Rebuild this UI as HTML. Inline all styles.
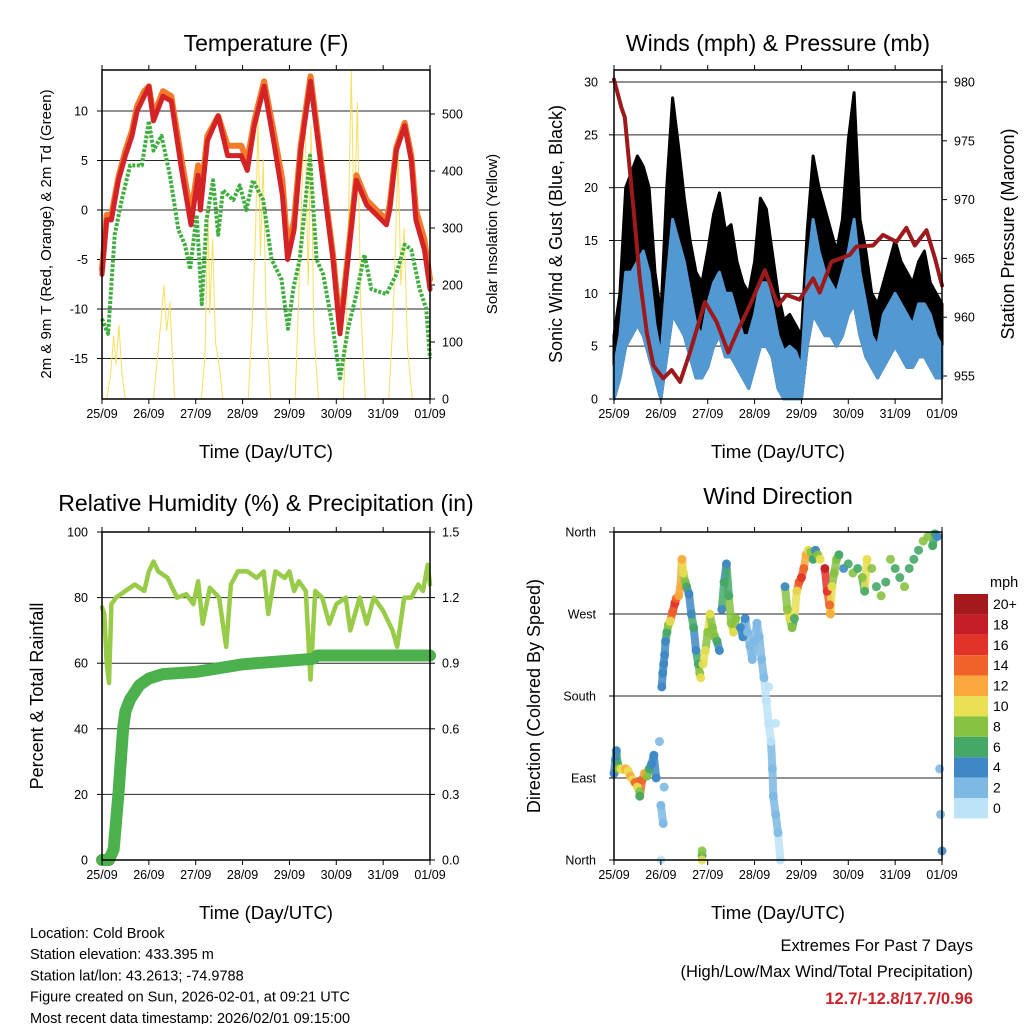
<!DOCTYPE html>
<html><head><meta charset="utf-8"><style>
body{margin:0;background:#fff;}
svg{display:block;font-family:"Liberation Sans",sans-serif;}
</style></head><body>
<svg id="c" width="1024" height="1024" viewBox="0 0 1024 1024"></svg>
<script>
// ---------- DATA ----------
const tDays=[0,0.1,0.2,0.35,0.5,0.64,0.75,0.9,1.0,1.1,1.3,1.48,1.7,1.9,2.05,2.1,2.25,2.48,2.68,2.97,3.1,3.25,3.46,3.68,3.85,3.96,4.1,4.24,4.45,4.66,4.93,5.08,5.25,5.43,5.65,6.07,6.14,6.28,6.46,6.6,6.7,6.88,7.0];
const temp2m=[-6.5,-1,-1,3,5.5,7.5,10,11.5,12.5,9,11.5,11,4,-1.5,3.5,0,7,9.5,5.5,5.5,4,8.5,12.5,6.5,1.5,-5,-2,6,13,5,-5,-12.5,-5,3,0.5,-1.5,0,6,8.5,5,-1,-4,-8];
const temp9m=[-6,-0.5,-0.5,3.3,6,8,10.5,12,12.5,9.5,12,11.5,5,-0.5,4.5,1,7.5,9.5,6.5,6.5,5,9,13,7.5,3,-4,-1,6.5,13.5,5.5,-4.5,-12,-4.5,3.5,1,-1,0.5,6.3,8.8,5.5,0,-3,-7];
const tdDays=[0,0.13,0.27,0.42,0.6,0.85,1.0,1.1,1.27,1.45,1.63,1.77,1.88,2.02,2.13,2.23,2.37,2.48,2.58,2.8,2.94,3.08,3.22,3.44,3.62,3.83,3.97,4.08,4.22,4.44,4.58,4.72,4.93,5.08,5.25,5.43,5.6,5.75,6.07,6.28,6.46,6.6,6.78,6.92,7.0];
const dewpoint=[-11,-12.5,-2.5,1,4.5,4.5,9,6,7.5,3.5,-2,-3.5,-6,-0.5,-9.5,-1,3,-2.5,2,1,2.5,0,3,1,-5,-7,-12,-8,-5,5.5,-5,-6.5,-12,-17,-12,-8.5,-4.5,-8,-8.5,-6.5,-3.5,-4,-8,-10,-15];
const solarDays=[0,0.1,0.18,0.25,0.3,0.36,0.43,0.5,1.1,1.17,1.25,1.32,1.38,1.45,1.55,2.12,2.2,2.26,2.3,2.36,2.42,2.5,2.58,3.12,3.2,3.28,3.33,3.38,3.44,3.5,3.6,4.12,4.2,4.26,4.33,4.4,4.46,4.52,4.62,5.15,5.22,5.28,5.32,5.38,5.45,5.52,5.62,6.12,6.2,6.26,6.32,6.38,6.45,6.52,6.62];
const solar=[0,0,40,110,60,130,40,0,0,60,130,200,120,170,0,0,80,340,150,280,100,60,0,0,120,300,500,250,420,150,0,0,180,350,520,200,480,120,0,0,140,400,575,300,520,160,0,0,120,260,433,200,300,90,0];
const windDays=[0,0.125,0.25,0.375,0.5,0.625,0.75,0.875,1,1.125,1.25,1.375,1.5,1.625,1.75,1.875,2,2.125,2.25,2.375,2.5,2.625,2.75,2.875,3,3.125,3.25,3.375,3.5,3.625,3.75,3.875,4,4.125,4.25,4.375,4.5,4.625,4.75,4.875,5,5.125,5.25,5.375,5.5,5.625,5.75,5.875,6,6.125,6.25,6.375,6.5,6.625,6.75,6.875,7];
const gustHi=[6,10,20,21.5,23,22,20,12,8,20,28.5,24,19,15,12,11,14,17.5,19.5,16,16.5,13,11,10,13,19,18,14,10,7.5,8,7,6,16,23,20,18,16,14,17,24.5,29,17,14,10,9,11,13,15,13,12,11,13,14,11,10,9];
const windHi=[3,6,12,12,13,14,12,7,4,11,17,15,13,10,7,6,9,11,12,10,10,8,6,6,8,11,11,9,6,4.5,5,4.5,3,12,17,14,12,11,10,12,14,17,12,9,6,5,8,9,10,9,8,7,9,9,8,6,5];
const windLo=[0,2,5,6,7,6,4,2,0,4,8,7,6,4,2,2,3,5,6,4,4,3,2,1,3,5,5,4,1,0,0,0,0,5,8,7,6,6,5,6,8,9,6,4,3,2,3,4,5,4,3,3,4,4,3,2,2];
const presDays=[0,0.16,0.23,0.41,0.55,0.7,0.84,1.05,1.23,1.41,1.62,1.94,2.19,2.44,2.62,2.9,3.22,3.5,3.68,3.96,4.25,4.39,4.64,5.03,5.17,5.53,5.74,6.03,6.24,6.42,6.67,6.85,7.0];
const pressure=[980.2,977.8,977,969.5,963.3,958.7,955.9,954.8,955.5,954.5,957,961.3,959.6,957,958.7,961,964,961,961.9,961.5,963.3,962.1,964.7,965.3,966,966.1,967,966.4,967.6,966.1,967.4,965,962.7];
const rhDays=[0,0.05,0.1,0.15,0.2,0.3,0.5,0.7,0.9,1.0,1.1,1.2,1.4,1.6,1.8,1.95,2.05,2.15,2.3,2.5,2.6,2.65,2.75,2.9,3.1,3.3,3.45,3.55,3.7,3.9,4.0,4.1,4.2,4.35,4.45,4.55,4.7,4.85,5.0,5.2,5.3,5.5,5.65,5.8,6.0,6.2,6.3,6.45,6.6,6.75,6.85,6.95,7.0];
const rh=[77,75,60,54,78,80,82,84,82,88,91,88,86,80,81,78,85,72,83,80,70,65,84,88,88,86,88,75,88,86,88,82,85,82,55,82,80,72,78,80,70,80,72,80,76,70,65,80,80,84,82,90,84];
const precipDays=[0,0.15,0.25,0.35,0.45,0.5,0.6,0.8,1.0,1.3,2.0,3.0,4.5,4.6,7.0];
const precip=[0,0,0.05,0.3,0.6,0.68,0.735,0.8,0.83,0.85,0.86,0.895,0.92,0.935,0.935];
const dirDays=[0,0.03,0.05,0.08,0.1,0.15,0.2,0.25,0.3,0.35,0.4,0.45,0.5,0.55,0.55,0.6,0.65,0.7,0.75,0.8,0.85,0.9,0.97,1.0,1.05,1.07,1.0,1.02,1.04,1.06,1.08,1.1,1.13,1.16,1.2,1.25,1.3,1.33,1.38,1.42,1.45,1.48,1.52,1.55,1.6,1.65,1.7,1.75,1.8,1.83,1.85,1.88,1.88,1.88,1.9,1.95,2.0,2.05,2.1,2.15,2.2,2.25,2.3,2.35,2.4,2.45,2.5,2.55,2.6,2.7,2.75,2.8,2.85,2.9,2.95,3.0,3.05,3.1,3.15,3.2,3.25,3.3,3.35,3.38,3.4,3.45,3.5,3.55,3.45,3.3,3.65,3.7,3.75,3.8,3.85,3.9,3.95,4.0,4.05,4.1,4.15,4.2,4.25,4.3,4.35,4.4,4.5,4.55,4.6,4.62,4.65,4.7,4.75,4.8,4.9,5.0,5.1,5.2,5.3,5.35,5.4,5.5,5.6,5.7,5.8,5.9,6.0,6.1,6.2,6.3,6.4,6.5,6.6,6.7,6.8,6.85,6.9,6.95,6.97,7.0];
const dirDeg=[95,110,120,105,100,100,99,100,98,92,88,85,80,75,70,88,95,92,100,105,115,90,130,60,40,80,0,190,205,215,225,240,250,258,262,272,282,287,290,300,330,315,305,300,292,270,255,230,215,205,200,5,10,0,215,230,250,270,255,245,240,230,275,305,325,290,260,250,265,255,245,265,250,235,220,240,260,245,220,200,175,150,130,100,70,50,30,0,150,190,300,275,265,255,265,295,305,310,320,335,340,338,330,340,335,330,320,295,280,270,300,315,330,335,320,325,315,320,310,295,330,320,300,290,305,330,320,310,300,320,330,340,350,355,345,358,355,100,50,10];
const dirSpeed=[4,4,4,6,8,10,10,12,10,12,10,14,10,8,6,14,12,8,6,4,4,4,2,2,2,2,0,4,4,4,4,4,6,8,10,14,16,14,12,12,12,10,8,6,4,4,6,4,6,8,10,6,8,10,10,10,8,10,8,8,6,4,4,6,4,6,8,10,8,4,4,4,2,2,2,2,2,2,2,2,0,0,0,2,2,2,2,0,0,0,4,8,10,8,6,10,14,16,14,12,10,8,6,4,8,10,18,16,14,12,10,8,8,6,4,6,8,6,8,6,10,8,6,8,6,8,6,6,8,6,6,6,8,8,6,6,4,2,2,4];
const xTickLabels=["25/09","26/09","27/09","28/09","29/09","30/09","31/09","01/09"];
const tempTicks=[-15,-10,-5,0,5,10];
const solarTicks=[0,100,200,300,400,500];
const windTicks=[0,5,10,15,20,25,30];
const presTicks=[955,960,965,970,975,980];
const rhTicks=[0,20,40,60,80,100];
const precipTicks=[0,0.3,0.6,0.9,1.2,1.5];
const dirTicks=[0,90,180,270,360];
const dirLabels=["North","East","South","West","North"];
const cbLabels=["20+","18","16","14","12","10","8","6","4","2","0"];
const cbColors=["#a3191c","#c31e25","#e1332a","#f0622a","#f9a83d","#e8df52","#88c242","#45a867","#3f88c5","#7eb9e3","#bde3f7"];

// ---------- HELPERS ----------
const NS="http://www.w3.org/2000/svg";
const svg=document.getElementById('c');
function mk(tag,attrs,parent){const e=document.createElementNS(NS,tag);for(const k in attrs)e.setAttribute(k,attrs[k]);(parent||svg).appendChild(e);return e;}
function txt(s,x,y,size,anchor,extra){const e=mk('text',Object.assign({x:x,y:y,'font-size':size,'text-anchor':anchor||'middle',fill:'#000'},extra||{}));e.textContent=s;return e;}
function lin(d0,d1,p0,p1){return v=>p0+(v-d0)*(p1-p0)/(d1-d0);}

function frame(x0,x1,y0,y1,name){
  const r=mk('rect',{x:x0,y:y0,width:x1-x0,height:y1-y0,fill:'none',stroke:'#000','stroke-width':1.5});
  
  
  const xs=lin(0,7,x0,x1);
  xTickLabels.forEach((l,i)=>{
    const x=xs(i);
    const t1=mk('line',{x1:x,x2:x,y1:y1,y2:y1+5,stroke:'#000'});
    
    
    const t2=mk('line',{x1:x,x2:x,y1:y0,y2:y0-5,stroke:'#000'});
    
    
    const t=txt(l,x,y1+19,12.5);
    
    
  });
  const tt=txt('Time (Day/UTC)',(x0+x1)/2,y1+59,18.5);
  
  
}
function grid(x0,x1,ys,ticks,labels,lx,name){
  ticks.forEach((v,i)=>{
    const y=ys(v);
    const g=mk('line',{x1:x0,x2:x1,y1:y,y2:y,stroke:'#000','stroke-width':1,'stroke-opacity':0.85});
    
    
    const tk=mk('line',{x1:x0-5,x2:x0,y1:y,y2:y,stroke:'#000'});
    
    
    const t=txt(labels?labels[i]:String(v),lx,y+4.5,12.5,'end');
    
    
  });
}
function rightAxis(x1,ys,ticks,fmt,name){
  ticks.forEach(v=>{
    const y=ys(v);
    const tk=mk('line',{x1:x1,x2:x1+5,y1:y,y2:y,stroke:'#000'});
    
    
    const t=txt(fmt(v),x1+12,y+4.5,12.5,'start');
    
    
  });
}
function rotTitle(s,x,y,size,name){
  const t=txt(s,x,y,size,'middle',{transform:'rotate(-90 '+x+' '+y+')'});
  
  
}
function poly(xsArr,ysArr,xs,ys,attrs,name){
  const pts=xsArr.map((d,i)=>xs(d).toFixed(1)+','+ys(ysArr[i]).toFixed(1)).join(' ');
  const p=mk('polyline',Object.assign({points:pts,fill:'none','stroke-linejoin':'round','stroke-linecap':'round'},attrs));
  
  
  return p;
}
function band(xsArr,lo,hi,xs,ys,attrs,name){
  const top=xsArr.map((d,i)=>xs(d).toFixed(1)+','+ys(hi[i]).toFixed(1));
  const bot=xsArr.map((d,i)=>xs(d).toFixed(1)+','+ys(lo[i]).toFixed(1)).reverse();
  const p=mk('polygon',Object.assign({points:top.concat(bot).join(' '),'stroke-linejoin':'round'},attrs));
  
  
  return p;
}

// ---------- PANEL 1: Temperature ----------
{
  const x0=102,x1=430,y0=70,y1=399;
  const xs=lin(0,7,x0,x1), ys=lin(0,10,210,111), ysS=lin(0,500,399,114);
  const t=txt('Temperature (F)',266,51,23);
  
  
  grid(x0,x1,ys,tempTicks,null,88,'temp-y');
  rightAxis(x1,ysS,solarTicks,v=>String(v),'solar-y');
  poly(solarDays,solar,xs,ysS,{stroke:'#f7dc4a','stroke-width':1,'stroke-opacity':0.9},'solar-insolation-line');
  poly(tdDays,dewpoint,xs,ys,{stroke:'#3fae3f','stroke-width':4,'stroke-dasharray':'3 1.6','stroke-linecap':'butt'},'dewpoint-line');
  poly(tDays,temp9m,xs,ys,{stroke:'#f47a2a','stroke-width':6},'temp-9m-line');
  poly(tDays,temp2m,xs,ys,{stroke:'#d42326','stroke-width':5},'temp-2m-line');
  frame(x0,x1,y0,y1,'temperature');
  rotTitle('2m & 9m T (Red, Orange) & 2m Td (Green)',51,234,15,'temp-left-axis-title');
  rotTitle('Solar Insolation (Yellow)',497,234,15,'solar-right-axis-title');
}
// ---------- PANEL 2: Winds ----------
{
  const x0=614,x1=942,y0=70,y1=399;
  const xs=lin(0,7,x0,x1), ys=lin(0,30,399,82), ysP=lin(980,955,82,376);
  const t=txt('Winds (mph) & Pressure (mb)',778,51,23);
  
  
  grid(x0,x1,ys,windTicks,null,598,'wind-y');
  rightAxis(x1,ysP,presTicks,v=>String(v),'pressure-y');
  band(windDays,windLo,gustHi,xs,ys,{fill:'#000',stroke:'#000','stroke-width':3},'gust-band');
  band(windDays,windLo,windHi,xs,ys,{fill:'#5298d3',stroke:'#5298d3','stroke-width':3},'wind-band');
  poly(presDays,pressure,xs,ysP,{stroke:'#9c1a1c','stroke-width':4},'pressure-line');
  frame(x0,x1,y0,y1,'winds');
  rotTitle('Sonic Wind & Gust (Blue, Black)',562,234,18,'wind-left-axis-title');
  rotTitle('Station Pressure (Maroon)',1014,234,18,'pressure-right-axis-title');
}
// ---------- PANEL 3: RH ----------
{
  const x0=102,x1=430,y0=532,y1=860;
  const xs=lin(0,7,x0,x1), ys=lin(0,100,860,532), ysP=lin(0,1.5,860,532);
  const t=txt('Relative Humidity (%) & Precipitation (in)',266,511,23);
  
  
  grid(x0,x1,ys,rhTicks,null,88,'rh-y');
  rightAxis(x1,ysP,precipTicks,v=>v.toFixed(1),'precip-y');
  poly(rhDays,rh,xs,ys,{stroke:'#98cb48','stroke-width':4.5},'humidity-line');
  poly(precipDays,precip,xs,ysP,{stroke:'#4cb04c','stroke-width':12},'precipitation-line');
  frame(x0,x1,y0,y1,'humidity');
  rotTitle('Percent & Total Rainfall',43,696,18,'rh-left-axis-title');
}
// ---------- PANEL 4: Wind direction ----------
{
  const x0=614,x1=942,y0=532,y1=860;
  const xs=lin(0,7,x0,x1), ys=lin(0,360,860,532);
  const t=txt('Wind Direction',778,504,23);
  
  
  grid(x0,x1,ys,dirTicks,dirLabels,596,'dir-y');
  const col=s=>cbColors[10-Math.min(10,Math.floor(s/2))];
  for(let i=1;i<dirDays.length;i++){
    const dd=dirDays[i]-dirDays[i-1], dv=Math.abs(dirDeg[i]-dirDeg[i-1]);
    if(dd>0&&dd<=0.08&&dv<40){
      const l=mk('line',{x1:xs(dirDays[i-1]),y1:ys(dirDeg[i-1]),x2:xs(dirDays[i]),y2:ys(dirDeg[i]),stroke:col(dirSpeed[i]),'stroke-width':8,'stroke-linecap':'round','stroke-opacity':0.85});
      
      
    }
  }
  dirDays.forEach((d,i)=>{
    const c=mk('circle',{cx:xs(d),cy:ys(dirDeg[i]),r:4.5,fill:col(dirSpeed[i]),'fill-opacity':0.9});
    
    
  });
  frame(x0,x1,y0,y1,'wind-direction');
  rotTitle('Direction (Colored By Speed)',540,696,18,'dir-left-axis-title');
  const m=txt('mph',990,587,14.5,'start');
  
  
  cbLabels.forEach((l,i)=>{
    const y=594+i*20.4;
    const r=mk('rect',{x:954,y:y,width:34,height:20.4,fill:cbColors[i]});
    
    
    const tl=txt(l,993,y+15,14,'start');
    
    
  });
}
// ---------- Footer ----------
["Location: Cold Brook","Station elevation: 433.395 m","Station lat/lon: 43.2613; -74.9788","Figure created on Sun, 2026-02-01, at 09:21 UTC","Most recent data timestamp: 2026/02/01 09:15:00"].forEach((s,i)=>{
  const t=txt(s,30,938+i*21.2,14.5,'start');
  
  
});
{
  const a=txt('Extremes For Past 7 Days',973,951,16.5,'end');
  
  
  const b=txt('(High/Low/Max Wind/Total Precipitation)',973,977,16.5,'end');
  
  
  const c=txt('12.7/-12.8/17.7/0.96',973,1004,16.5,'end',{fill:'#cc2229','font-weight':'bold'});
  
  
}
</script>
</body></html>
